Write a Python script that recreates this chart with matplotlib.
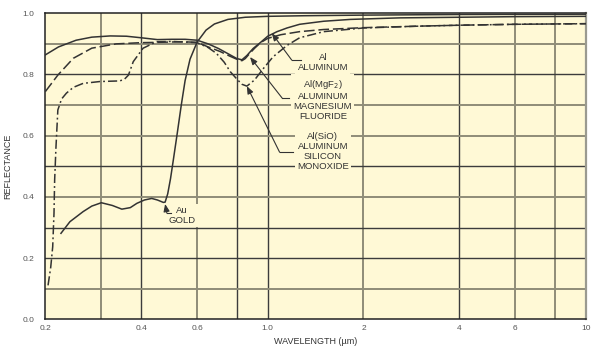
"""Reflectance of metal mirror coatings vs wavelength."""

import matplotlib

matplotlib.use("Agg")

import matplotlib.pyplot as plt

plt.rcParams["font.family"] = ["Liberation Sans", "DejaVu Sans"]

BG = "#fff9d6"
INK = "#333333"
GRID_LIGHT = "#8f8d78"
GRID_DARK = "#3c3c3c"

# gold
au_wl = [0.224, 0.239, 0.263, 0.28, 0.30, 0.325, 0.348, 0.37, 0.388, 0.41, 0.432, 0.45,
         0.47, 0.476, 0.485, 0.495, 0.505, 0.52, 0.535, 0.55, 0.57, 0.6, 0.64, 0.68,
         0.75, 0.85, 1.0, 1.3, 2.0, 4.0, 10.0]
au_r = [0.281, 0.319, 0.352, 0.370, 0.381, 0.372, 0.360, 0.365, 0.379, 0.390, 0.395, 0.390,
        0.382, 0.383, 0.410, 0.460, 0.520, 0.610, 0.700, 0.780, 0.850, 0.906, 0.945, 0.965,
        0.980, 0.987, 0.990, 0.992, 0.994, 0.996, 0.997]

# bare aluminum
al_wl = [0.2, 0.22, 0.25, 0.28, 0.32, 0.36, 0.4, 0.45, 0.5, 0.55, 0.6, 0.65, 0.7, 0.75,
         0.8, 0.83, 0.86, 0.9, 0.95, 1.0, 1.07, 1.15, 1.26, 1.5, 1.82, 2.6, 4.0, 6.0, 10.0]
al_r = [0.864, 0.890, 0.912, 0.922, 0.926, 0.925, 0.920, 0.914, 0.915, 0.915, 0.912, 0.900,
        0.885, 0.868, 0.852, 0.848, 0.862, 0.885, 0.905, 0.925, 0.940, 0.952, 0.964, 0.974,
        0.980, 0.985, 0.987, 0.989, 0.990]

# aluminum + MgF2
mgf_wl = [0.2, 0.219, 0.245, 0.28, 0.334, 0.4, 0.45, 0.54, 0.6, 0.65, 0.709, 0.76, 0.799,
          0.83, 0.85, 0.88, 0.91, 0.95, 1.0, 1.1, 1.26, 1.5, 2.0, 3.0, 4.0, 6.0, 10.0]
mgf_r = [0.744, 0.798, 0.853, 0.886, 0.900, 0.904, 0.905, 0.907, 0.905, 0.890, 0.875, 0.860,
         0.850, 0.845, 0.852, 0.870, 0.886, 0.904, 0.918, 0.930, 0.940, 0.947, 0.953, 0.958,
         0.961, 0.964, 0.966]

# aluminum + SiO
sio_wl = [0.204, 0.208, 0.211, 0.213, 0.214, 0.216, 0.219, 0.225, 0.233, 0.245, 0.263, 0.297,
          0.343, 0.355, 0.365, 0.378, 0.406, 0.447, 0.5, 0.6, 0.65, 0.69, 0.73, 0.763, 0.8,
          0.83, 0.86, 0.909, 0.97, 1.04, 1.15, 1.26, 1.5, 2.0, 3.0, 4.0, 6.0, 10.0]
sio_r = [0.111, 0.170, 0.237, 0.347, 0.455, 0.560, 0.684, 0.720, 0.739, 0.758, 0.771, 0.777,
         0.779, 0.785, 0.798, 0.842, 0.886, 0.907, 0.908, 0.904, 0.888, 0.869, 0.840, 0.809,
         0.785, 0.768, 0.762, 0.782, 0.820, 0.858, 0.895, 0.920, 0.940, 0.952, 0.958, 0.961,
         0.964, 0.966]

x_ticks = [0.2, 0.4, 0.6, 1.0, 2, 4, 6, 10]
x_tick_labels = ["0.2", "0.4", "0.6", "1.0", "2", "4", "6", "10"]
y_ticks = [0.0, 0.2, 0.4, 0.6, 0.8, 1.0]
y_tick_labels = ["0.0", "0.2", "0.4", "0.6", "0.8", "1.0"]

x_grid_light = [0.3, 0.6, 2, 6, 8]
x_grid_dark = [0.4, 0.8, 1.0, 4]
y_grid_light = [0.1, 0.4, 0.6, 0.7, 0.9]
y_grid_dark = [0.2, 0.3, 0.5, 0.8]

fig = plt.figure(figsize=(6, 3.56), dpi=100)
ax = fig.add_axes([0.0755, 0.103, 0.901, 0.8597])
ax.set_facecolor(BG)
ax.set_xscale("log")
ax.set_xlim(0.2, 10)
ax.set_ylim(0, 1.0)

for xv in x_grid_light:
    ax.axvline(xv, color=GRID_LIGHT, lw=1.4, zorder=1)
for xv in x_grid_dark:
    ax.axvline(xv, color=GRID_DARK, lw=1.0, zorder=1)
for yv in y_grid_light:
    ax.axhline(yv, color=GRID_LIGHT, lw=1.4, zorder=1)
for yv in y_grid_dark:
    ax.axhline(yv, color=GRID_DARK, lw=1.0, zorder=1)

ax.plot(au_wl, au_r, color=INK, lw=1.1, zorder=3)
ax.plot(al_wl, al_r, color=INK, lw=1.1, zorder=3)
ax.plot(mgf_wl, mgf_r, color=INK, lw=1.1, dashes=(7, 2.5), zorder=3)
ax.plot(sio_wl, sio_r, color=INK, lw=1.1, dashes=(6, 2, 1.2, 2), zorder=3)

ax.set_xticks(x_ticks)
ax.set_xticklabels(x_tick_labels)
ax.xaxis.set_minor_locator(matplotlib.ticker.NullLocator())
ax.set_yticks(y_ticks)
ax.set_yticklabels(y_tick_labels)
ax.tick_params(axis="both", length=0, labelsize=6, labelcolor="#555555")
ax.tick_params(axis="x", pad=4)
ax.tick_params(axis="y", pad=8)

ax.set_xlabel("WAVELENGTH (\u00b5m)", fontsize=6.5, color=INK, labelpad=4)
ax.set_ylabel("REFLECTANCE", fontsize=6.5, color=INK)
ax.yaxis.set_label_coords(-0.062, 0.5)

for side in ["left", "bottom", "top"]:
    ax.spines[side].set_color("#222222")
    ax.spines[side].set_linewidth(1.1)
ax.spines["right"].set_color("#9a9a90")
ax.spines["right"].set_linewidth(1.6)

label_box = dict(facecolor=BG, edgecolor="none", pad=1.5)
text_kw = dict(fontsize=6.8, color=INK, ha="center", va="center",
               linespacing=1.15, bbox=label_box, zorder=4)

ax.text(1.49, 0.839, "Al\nALUMINUM", **text_kw)
ax.text(1.49, 0.717, "Al(MgF$_2$)\nALUMINUM\nMAGNESIUM\nFLUORIDE", **text_kw)
ax.text(1.49, 0.547, "Al(SiO)\nALUMINUM\nSILICON\nMONOXIDE", **text_kw)
ax.text(0.538, 0.338, "Au\nGOLD", **text_kw)

arrow_kw = dict(arrowstyle="-|>,head_length=0.45,head_width=0.18", color=INK, lw=0.8,
                shrinkA=0, shrinkB=0)
# (tip, elbow, stub end)
leaders = [
    ((1.03, 0.935), (1.19, 0.847), (1.27, 0.847)),
    ((0.88, 0.857), (1.11, 0.723), (1.17, 0.723)),
    ((0.86, 0.762), (1.09, 0.546), (1.20, 0.546)),
    ((0.476, 0.377), (0.482, 0.347), (0.497, 0.347)),
]
for tip, elbow, stub in leaders:
    ax.plot([elbow[0], stub[0]], [elbow[1], stub[1]], color=INK, lw=0.8, zorder=4)
    ax.annotate("", xy=tip, xytext=elbow, arrowprops=arrow_kw, zorder=4)

fig.savefig("out.png", dpi=100, facecolor="white")
